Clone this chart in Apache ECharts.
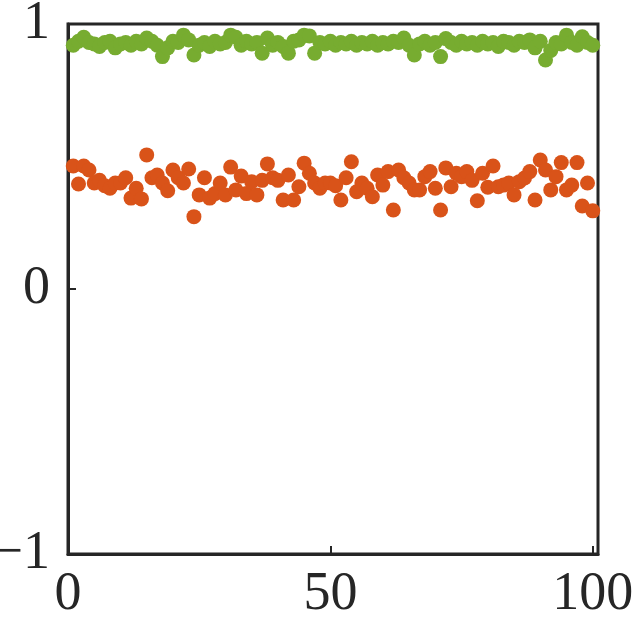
<!DOCTYPE html>
<html>
<head>
<meta charset="utf-8">
<script src="https://cdn.jsdelivr.net/npm/echarts@6/dist/echarts.min.js"></script>
<style>
  html, body { margin: 0; padding: 0; background: #fff; }
  #chart { width: 635px; height: 626px; }
</style>
</head>
<body>
<div id="chart"></div>
<script>
// values, index 1..100
const orangeY = [
  0.464, 0.396, 0.464, 0.449, 0.40, 0.41, 0.39, 0.38, 0.40, 0.40,
  0.42, 0.343, 0.38, 0.34, 0.506, 0.42, 0.43, 0.40, 0.371, 0.449,
  0.42, 0.40, 0.453, 0.273, 0.355, 0.42, 0.343, 0.36, 0.40, 0.355,
  0.46, 0.374, 0.426, 0.36, 0.405, 0.355, 0.41, 0.472, 0.42, 0.41,
  0.336, 0.43, 0.336, 0.386, 0.475, 0.437, 0.40, 0.38, 0.40, 0.40,
  0.39, 0.336, 0.42, 0.48, 0.367, 0.40, 0.38, 0.348, 0.43, 0.392,
  0.443, 0.298, 0.449, 0.42, 0.40, 0.374, 0.374, 0.424, 0.443, 0.38,
  0.298, 0.457, 0.386, 0.437, 0.424, 0.443, 0.41, 0.333, 0.437, 0.384,
  0.464, 0.386, 0.392, 0.40, 0.355, 0.405, 0.419, 0.443, 0.336, 0.487,
  0.449, 0.374, 0.424, 0.477, 0.374, 0.392, 0.477, 0.313, 0.40, 0.295
];
const greenY = [
  0.92, 0.935, 0.95, 0.93, 0.925, 0.915, 0.93, 0.935, 0.91, 0.925,
  0.93, 0.92, 0.935, 0.925, 0.947, 0.935, 0.92, 0.877, 0.91, 0.935,
  0.93, 0.958, 0.94, 0.883, 0.92, 0.93, 0.915, 0.935, 0.925, 0.93,
  0.958, 0.95, 0.92, 0.935, 0.925, 0.93, 0.89, 0.947, 0.92, 0.93,
  0.915, 0.89, 0.935, 0.94, 0.958, 0.955, 0.89, 0.93, 0.925, 0.935,
  0.92, 0.93, 0.925, 0.935, 0.92, 0.93, 0.925, 0.935, 0.92, 0.93,
  0.925, 0.935, 0.93, 0.947, 0.92, 0.883, 0.925, 0.935, 0.92, 0.93,
  0.877, 0.945, 0.93, 0.92, 0.935, 0.925, 0.93, 0.92, 0.935, 0.925,
  0.93, 0.915, 0.935, 0.93, 0.92, 0.935, 0.93, 0.94, 0.91, 0.935,
  0.864, 0.9, 0.93, 0.925, 0.958, 0.93, 0.92, 0.952, 0.93, 0.92
];
const xTicks = [0, 50, 100];
const yTicks = [-1, 0, 1];

const toPairs = arr => arr.map((v, i) => [i + 1, v]);

const chart = echarts.init(document.getElementById("chart"));
const axisColor = "#262626";
const labelFont = {
  fontFamily: "Liberation Serif",
  fontSize: 54,
  color: axisColor
};

chart.setOption({
  animation: false,
  grid: {
    left: 68,
    right: 37,
    top: 24,
    bottom: 72,
    containLabel: false,
    outerBoundsMode: "none",
    show: true,
    borderColor: axisColor,
    borderWidth: 3
  },
  xAxis: {
    type: "value",
    min: 0,
    max: 101,
    interval: 50,
    axisLine: { show: true, onZero: false, lineStyle: { color: axisColor, width: 3 } },
    axisTick: { inside: true, length: 8, lineStyle: { color: axisColor, width: 2 } },
    splitLine: { show: false },
    axisLabel: Object.assign({}, labelFont, {
      margin: 14,
      formatter: v => (xTicks.indexOf(v) >= 0 ? String(v) : "")
    })
  },
  yAxis: {
    type: "value",
    min: -1,
    max: 1,
    interval: 1,
    axisLine: { show: true, onZero: false, lineStyle: { color: axisColor, width: 3 } },
    axisTick: { inside: true, length: 8, lineStyle: { color: axisColor, width: 2 } },
    splitLine: { show: false },
    axisLabel: Object.assign({}, labelFont, {
      margin: 18,
      formatter: v => (yTicks.indexOf(v) >= 0 ? String(v).replace("-", "\u2212") : "")
    })
  },
  series: [
    {
      type: "scatter",
      data: toPairs(orangeY),
      symbolSize: 15,
      itemStyle: { color: "#D95319", opacity: 1 }
    },
    {
      type: "scatter",
      data: toPairs(greenY),
      symbolSize: 15,
      itemStyle: { color: "#77AC30", opacity: 1 }
    }
  ]
});
</script>
</body>
</html>
